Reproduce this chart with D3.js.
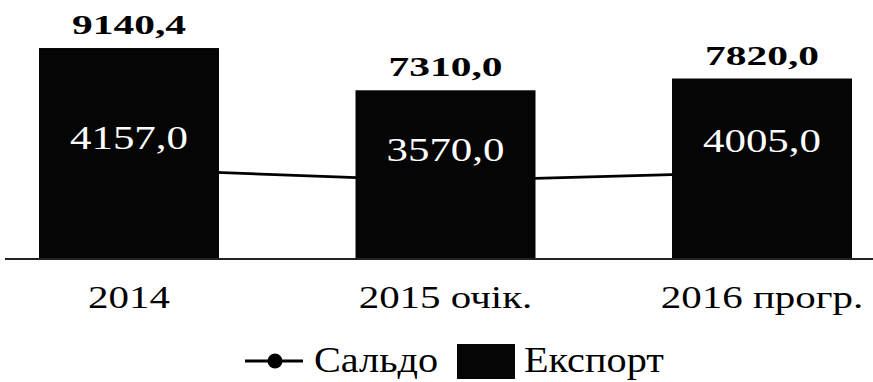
<!DOCTYPE html>
<html>
<head>
<meta charset="utf-8">
<script src="https://cdn.jsdelivr.net/npm/d3@7"></script>
<style>
  html, body { margin: 0; padding: 0; background: #fff; }
  svg { display: block; }
  text { font-family: "Liberation Serif", "Times New Roman", serif; }
</style>
</head>
<body>
<svg id="chart" width="873" height="382"></svg>
<script>
// Categories and series
const categories = ["2014", "2015 очік.", "2016 прогр."];
const exportValues = [9140.4, 7310.0, 7820.0];   // Експорт (bars)
const saldoValues = [4157.0, 3570.0, 4005.0];    // Сальдо (line)
const legendLabels = ["Сальдо", "Експорт"];

const fmt = v => v.toFixed(1).replace(".", ",");

const svg = d3.select("#chart");
const W = 873, H = 382;
const baseline = 259;

// Scales
const x = d3.scalePoint().domain(categories).range([129, 762]);
const barW = 180;
const yBar = d3.scaleLinear().domain([0, 10000]).range([baseline, 28.2]);
const ySaldo = d3.scaleLinear().domain([0, 10000]).range([251.6, 53.4]);

// Helper for horizontally stretched text
function stretchedText(g, txt, cx, cy, size, sx, opts = {}) {
  return g.append("text")
    .attr("transform", `translate(${cx},${cy}) scale(${sx},1)`)
    .attr("text-anchor", opts.anchor || "middle")
    .attr("font-size", size)
    .attr("font-weight", opts.weight || "normal")
    .attr("fill", opts.fill || "#000")
    .text(txt);
}

// Сальдо line (drawn first, sits behind the bars)
const line = d3.line()
  .x((d, i) => x(categories[i]))
  .y(d => ySaldo(d));
svg.append("path")
  .datum(saldoValues)
  .attr("d", line)
  .attr("fill", "none")
  .attr("stroke", "#000")
  .attr("stroke-width", 2.8);
svg.selectAll("circle.saldo")
  .data(saldoValues)
  .join("circle")
  .attr("class", "saldo")
  .attr("cx", (d, i) => x(categories[i]))
  .attr("cy", d => ySaldo(d))
  .attr("r", 6)
  .attr("fill", "#000");

// Експорт bars
svg.selectAll("rect.bar")
  .data(exportValues)
  .join("rect")
  .attr("class", "bar")
  .attr("x", (d, i) => x(categories[i]) - barW / 2)
  .attr("y", d => yBar(d))
  .attr("width", barW)
  .attr("height", d => baseline - yBar(d))
  .attr("fill", "#050505");

// Category axis line
svg.append("line")
  .attr("x1", 5).attr("x2", W)
  .attr("y1", baseline).attr("y2", baseline)
  .attr("stroke", "#222")
  .attr("stroke-width", 2);

// Export value labels above bars
const labels = svg.append("g");
exportValues.forEach((v, i) => {
  stretchedText(labels, fmt(v), x(categories[i]), yBar(v) - 14, 28, 1.48, { weight: "bold" });
});

// Saldo value labels inside the bars
saldoValues.forEach((v, i) => {
  stretchedText(labels, fmt(v), x(categories[i]), ySaldo(v) - 20, 33, 1.3, { fill: "#fff" });
});

// Category labels
categories.forEach(c => {
  stretchedText(labels, c, x(c), 308, 32, 1.28);
});

// Legend
const lg = svg.append("g");
const ly = 361;
lg.append("line")
  .attr("x1", 245).attr("x2", 303)
  .attr("y1", ly).attr("y2", ly)
  .attr("stroke", "#000").attr("stroke-width", 3);
lg.append("circle").attr("cx", 275).attr("cy", ly).attr("r", 7.5).attr("fill", "#000");
stretchedText(lg, legendLabels[0], 314, ly + 11, 35, 1.15, { anchor: "start" });
lg.append("rect")
  .attr("x", 457).attr("y", ly - 17)
  .attr("width", 58).attr("height", 35)
  .attr("fill", "#050505");
stretchedText(lg, legendLabels[1], 524, ly + 11, 35, 1.15, { anchor: "start" });
</script>
</body>
</html>
